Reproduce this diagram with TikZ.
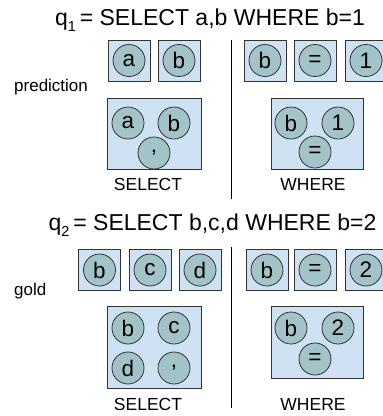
\documentclass[tikz,border=0pt]{standalone}
\usepackage{fontspec}
\setmainfont{Liberation Sans}
\definecolor{boxblue}{HTML}{CFE2F3}
\definecolor{circteal}{HTML}{A2C4C9}
\definecolor{edge}{HTML}{333333}
\begin{document}
\begin{tikzpicture}[x=1pt,y=-1pt,
  tokbox/.style={rectangle, draw=edge, fill=boxblue, line width=0.9pt, minimum width=42pt, minimum height=41pt, inner sep=0pt},
  bigbox/.style={draw=edge, fill=boxblue, line width=0.9pt},
  tok/.style={circle, draw=edge, fill=circteal, line width=0.8pt, minimum size=32pt, inner sep=0pt, font=\fontsize{22.5}{22.5}\selectfont},
  title/.style={anchor=base, inner sep=0pt, font=\fontsize{23}{23}\selectfont},
  side/.style={anchor=base west, inner sep=0pt, font=\fontsize{17}{17}\selectfont},
  seclabel/.style={anchor=base, inner sep=0pt, font=\fontsize{17.5}{17.5}\selectfont},
  divider/.style={draw=black, line width=0.9pt}]
\clip (0,0) rectangle (383,416);
\useasboundingbox (0,0) rectangle (383,416);
\fill[white] (0,0) rectangle (383,416);

% ---------- q1 ----------
\node[title] (t1) at (210,25) {q\raisebox{-0.3em}{\fontsize{14.5}{14.5}\selectfont 1}\,= SELECT a,b WHERE b=1};
\node[side] (pred) at (14,91.5) {prediction};
\coordinate (d1a) at (231,40);
\coordinate (d1b) at (231,199);
\draw[divider] (d1a) -- (d1b);

\node[tokbox] (p1) at (129,60.5) {};
\node[tok] (p1c) at (p1) {a};
\node[tokbox] (p2) at (179,60.5) {};
\node[tok] (p2c) at (p2) {b};
\node[tokbox] (p3) at (265,60.5) {};
\node[tok] (p3c) at (p3) {b};
\node[tokbox] (p4) at (315,60.5) {};
\node[tok] (p4c) at (p4) {=};
\node[tokbox] (p5) at (366,60.5) {};
\node[tok] (p5c) at (p5) {1};

\filldraw[bigbox] (107,98) rectangle (201,169);
\node[tok] (ps1) at (128,123) {a};
\node[tok] (ps2) at (174,123) {b};
\node[tok] (ps3) at (154,153) {,};
\node[seclabel] (psel) at (148,190.5) {SELECT};

\filldraw[bigbox] (271,98) rectangle (363,169);
\node[tok] (pw1) at (291,123) {b};
\node[tok] (pw2) at (338,123) {1};
\node[tok] (pw3) at (315,152) {=};
\node[seclabel] (pwh) at (313,190.5) {WHERE};

% ---------- q2 ----------
\node[title] (t2) at (212.5,230) {q\raisebox{-0.3em}{\fontsize{14.5}{14.5}\selectfont 2}\,= SELECT b,c,d WHERE b=2};
\node[side] (gold) at (14,295) {gold};
\coordinate (d2a) at (231,247);
\coordinate (d2b) at (231,408);
\draw[divider] (d2a) -- (d2b);

\node[tokbox] (g1) at (99.5,270) {};
\node[tok] (g1c) at (g1) {b};
\node[tokbox] (g2) at (150,270) {};
\node[tok] (g2c) at (g2) {c};
\node[tokbox] (g3) at (200,270) {};
\node[tok] (g3c) at (g3) {d};
\node[tokbox] (g4) at (267,270) {};
\node[tok] (g4c) at (g4) {b};
\node[tokbox] (g5) at (315,270) {};
\node[tok] (g5c) at (g5) {=};
\node[tokbox] (g6) at (366,270) {};
\node[tok] (g6c) at (g6) {2};

\filldraw[bigbox] (107,306) rectangle (201,388);
\node[tok] (gs1) at (128,328) {b};
\node[tok] (gs2) at (174,328) {c};
\node[tok] (gs3) at (128,368) {d};
\node[tok] (gs4) at (174,368) {,};
\node[seclabel] (gsel) at (148,410) {SELECT};

\filldraw[bigbox] (271,306) rectangle (363,378);
\node[tok] (gw1) at (291,328) {b};
\node[tok] (gw2) at (338,328) {2};
\node[tok] (gw3) at (315,359) {=};
\node[seclabel] (gwh) at (313,410) {WHERE};
\end{tikzpicture}
\end{document}
